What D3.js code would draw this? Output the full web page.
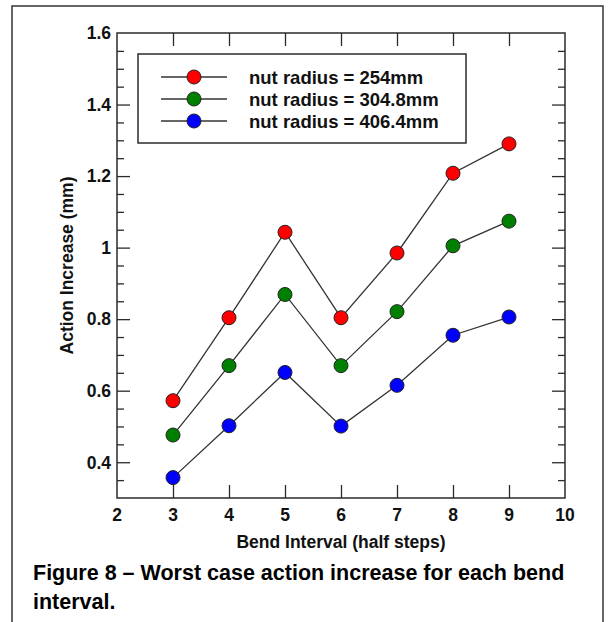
<!DOCTYPE html>
<html>
<head>
<meta charset="utf-8">
<script src="https://cdn.jsdelivr.net/npm/d3@7"></script>
<style>
  html, body { margin: 0; padding: 0; background: #fff; }
  svg { display: block; font-family: "Liberation Sans", Arial, sans-serif; font-weight: bold; }
</style>
</head>
<body>
<div id="chart"></div>
<script>
// data
const bendInterval = [3, 4, 5, 6, 7, 8, 9];
const nut254 = [0.572, 0.804, 1.043, 0.804, 0.985, 1.208, 1.290];
const nut3048 = [0.476, 0.670, 0.869, 0.670, 0.821, 1.005, 1.074];
const nut4064 = [0.357, 0.502, 0.651, 0.501, 0.615, 0.755, 0.806];
const seriesLabels = ['nut radius = 254mm', 'nut radius = 304.8mm', 'nut radius = 406.4mm'];
const xTicks = [2, 3, 4, 5, 6, 7, 8, 9, 10];
const yTicks = [0.4, 0.6, 0.8, 1.0, 1.2, 1.4, 1.6];
const yTickLabels = ['0.4', '0.6', '0.8', '1', '1.2', '1.4', '1.6'];
const xTitle = 'Bend Interval (half steps)';
const yTitle = 'Action Increase (mm)';
const captionLines = ['Figure 8 \u2013 Worst case action increase for each bend', 'interval.'];

const colors = ['#ff0000', '#008000', '#0000ff'];
const seriesValues = [nut254, nut3048, nut4064];

const width = 610, height = 622;
const plot = { left: 117, top: 33, right: 565, bottom: 498 };
const ink = '#2b2b2b';

const svg = d3.select('#chart').append('svg')
  .attr('width', width)
  .attr('height', height);

// outer page frame
svg.append('rect')
  .attr('x', 12).attr('y', 6)
  .attr('width', 591).attr('height', 640)
  .attr('fill', 'none')
  .attr('stroke', '#333')
  .attr('stroke-width', 1.5);

const x = d3.scaleLinear().domain([2, 10]).range([plot.left, plot.right]);
const y = d3.scaleLinear().domain([0.3, 1.6]).range([plot.bottom, plot.top]);

const minorY = d3.range(0.35, 1.6, 0.05).map(v => +v.toFixed(2))
  .filter(v => !yTicks.some(t => Math.abs(t - v) < 1e-6));
const innerX = xTicks.filter(v => v > 2 && v < 10);

// ticks, all pointing inward
function tickAxis(axis, transform) {
  const g = svg.append('g').attr('transform', transform).call(axis);
  g.select('.domain').remove();
  g.selectAll('line').attr('stroke', ink).attr('stroke-width', 1.3);
  return g;
}

tickAxis(d3.axisLeft(y).tickValues(yTicks.filter(v => v < 1.6)).tickSize(-13).tickFormat(''), `translate(${plot.left},0)`);
tickAxis(d3.axisLeft(y).tickValues(minorY).tickSize(-7).tickFormat(''), `translate(${plot.left},0)`);
tickAxis(d3.axisRight(y).tickValues(yTicks.filter(v => v < 1.6)).tickSize(-13).tickFormat(''), `translate(${plot.right},0)`);
tickAxis(d3.axisRight(y).tickValues(minorY).tickSize(-7).tickFormat(''), `translate(${plot.right},0)`);
tickAxis(d3.axisBottom(x).tickValues(innerX).tickSize(-13).tickFormat(''), `translate(0,${plot.bottom})`);
tickAxis(d3.axisTop(x).tickValues(innerX).tickSize(-13).tickFormat(''), `translate(0,${plot.top})`);

// plot frame
svg.append('rect')
  .attr('x', plot.left).attr('y', plot.top)
  .attr('width', plot.right - plot.left)
  .attr('height', plot.bottom - plot.top)
  .attr('fill', 'none')
  .attr('stroke', ink)
  .attr('stroke-width', 1.5);

// tick labels
svg.append('g').selectAll('text')
  .data(yTicks)
  .join('text')
  .attr('x', plot.left - 6)
  .attr('y', d => y(d))
  .attr('dy', '0.36em')
  .attr('text-anchor', 'end')
  .style('font-size', '17.5px')
  .attr('fill', '#111')
  .text((d, i) => yTickLabels[i]);

svg.append('g').selectAll('text')
  .data(xTicks)
  .join('text')
  .attr('x', d => x(d))
  .attr('y', 521)
  .attr('text-anchor', 'middle')
  .style('font-size', '17.5px')
  .attr('fill', '#111')
  .text(d => d);

// axis titles
svg.append('text')
  .attr('x', (plot.left + plot.right) / 2)
  .attr('y', 548)
  .attr('text-anchor', 'middle')
  .style('font-size', '17.5px')
  .attr('fill', '#111')
  .text(xTitle);

svg.append('text')
  .attr('transform', `translate(73,${(plot.top + plot.bottom) / 2}) rotate(-90)`)
  .attr('text-anchor', 'middle')
  .style('font-size', '17.5px')
  .attr('fill', '#111')
  .text(yTitle);

// series
const line = d3.line().x(d => x(d[0])).y(d => y(d[1]));

seriesValues.forEach((vals, i) => {
  const pts = bendInterval.map((b, j) => [b, vals[j]]);
  svg.append('path')
    .datum(pts)
    .attr('d', line)
    .attr('fill', 'none')
    .attr('stroke', '#333')
    .attr('stroke-width', 1.3);
  svg.append('g').selectAll('circle')
    .data(pts)
    .join('circle')
    .attr('cx', d => x(d[0]))
    .attr('cy', d => y(d[1]))
    .attr('r', 7)
    .attr('fill', colors[i])
    .attr('stroke', '#222')
    .attr('stroke-width', 1);
});

// legend
const legend = svg.append('g');
legend.append('rect')
  .attr('x', 138).attr('y', 54)
  .attr('width', 328).attr('height', 89)
  .attr('fill', '#fff')
  .attr('stroke', ink)
  .attr('stroke-width', 1.5);

seriesLabels.forEach((label, i) => {
  const ly = 77 + i * 22;
  legend.append('line')
    .attr('x1', 161).attr('x2', 227)
    .attr('y1', ly).attr('y2', ly)
    .attr('stroke', '#333')
    .attr('stroke-width', 1.3);
  legend.append('circle')
    .attr('cx', 194).attr('cy', ly)
    .attr('r', 7)
    .attr('fill', colors[i])
    .attr('stroke', '#222')
    .attr('stroke-width', 1);
  legend.append('text')
    .attr('x', 249).attr('y', ly)
    .attr('dy', '0.36em')
    .style('font-size', '18.5px')
    .attr('fill', '#111')
    .text(label);
});

// caption
svg.append('g').selectAll('text')
  .data(captionLines)
  .join('text')
  .attr('x', 33)
  .attr('y', (d, i) => 580 + i * 29)
  .style('font-size', '21.5px')
  .attr('fill', '#000')
  .text(d => d);
</script>
</body>
</html>
